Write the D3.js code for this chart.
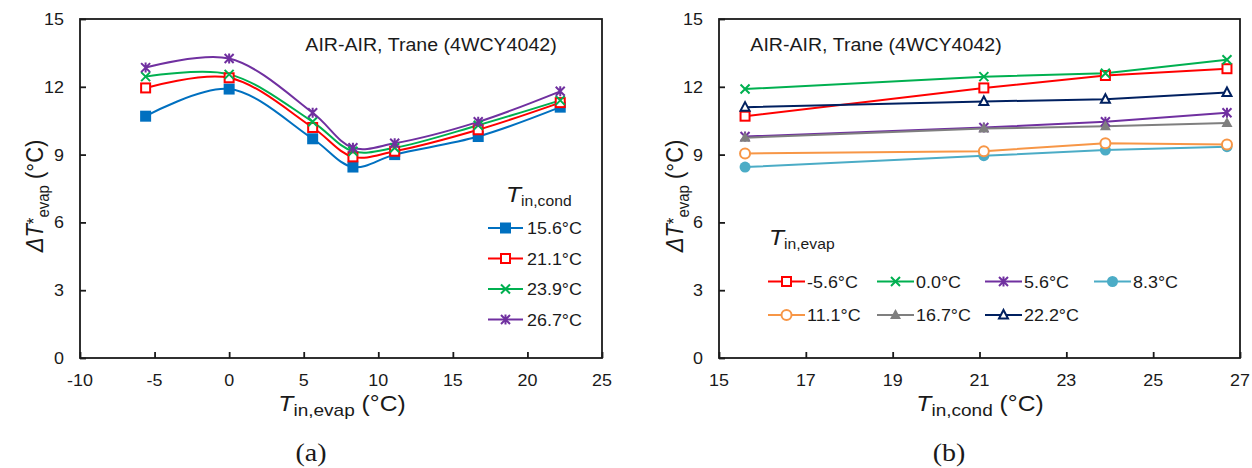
<!DOCTYPE html>
<html><head><meta charset="utf-8">
<script src="https://cdn.jsdelivr.net/npm/d3@7/dist/d3.min.js"></script>
<style>body{margin:0;background:#fff}svg{display:block}</style>
</head><body><svg id="c" width="1252" height="468"></svg>
<script>
// ---------- data ----------
const leftX = [-5.6, 0, 5.6, 8.3, 11.1, 16.7, 22.2];
const leftNames = ["15.6°C", "21.1°C", "23.9°C", "26.7°C"];
const left156 = [10.7, 11.9, 9.7, 8.45, 9.0, 9.8, 11.1];
const left211 = [11.95, 12.4, 10.2, 8.9, 9.15, 10.1, 11.3];
const left239 = [12.45, 12.55, 10.45, 9.15, 9.3, 10.3, 11.4];
const left267 = [12.85, 13.25, 10.85, 9.3, 9.5, 10.45, 11.8];
const leftXTicks = [-10, -5, 0, 5, 10, 15, 20, 25];

const rightX = [15.6, 21.1, 23.9, 26.7];
const rightNames = ["-5.6°C", "0.0°C", "5.6°C", "8.3°C", "11.1°C", "16.7°C", "22.2°C"];
const rightM56 = [10.7, 11.95, 12.5, 12.8];
const right00 = [11.9, 12.45, 12.6, 13.2];
const right56 = [9.8, 10.2, 10.45, 10.85];
const right83 = [8.45, 8.95, 9.2, 9.35];
const right111 = [9.05, 9.15, 9.5, 9.45];
const right167 = [9.75, 10.15, 10.25, 10.4];
const right222 = [11.1, 11.35, 11.45, 11.75];
const rightXTicks = [15, 17, 19, 21, 23, 25, 27];
const yTicks = [0, 3, 6, 9, 12, 15];

const annotation = "AIR-AIR, Trane (4WCY4042)";

// ---------- setup ----------
const svg = d3.select("#c");
const SX = 1.12;
const FONT = "'Liberation Sans', Arial, sans-serif";

function label(parent, x, y, parts, opts = {}) {
  const rot = opts.rotate ? ` rotate(${opts.rotate})` : "";
  const g = parent.append("g").attr("transform", `translate(${x},${y}) scale(${opts.sx || SX},1)${rot}`);
  const t = g.append("text")
    .attr("text-anchor", opts.anchor || "start")
    .attr("font-family", opts.family || FONT)
    .attr("font-size", opts.size || 15)
    .attr("fill", "#1a1a1a");
  parts.forEach(p => {
    const ts = t.append("tspan").text(p.t);
    if (p.size) ts.attr("font-size", p.size);
    if (p.italic) ts.attr("font-style", "italic");
    if (p.dy) ts.attr("dy", p.dy);
  });
  return g;
}

function marker(g, type, color, x, y) {
  const s = 5.5;
  if (type === "fsquare") g.append("rect").attr("x", x - s).attr("y", y - s).attr("width", 2 * s).attr("height", 2 * s).attr("fill", color);
  else if (type === "osquare") g.append("rect").attr("x", x - s + 1).attr("y", y - s + 1).attr("width", 2 * s - 2).attr("height", 2 * s - 2).attr("fill", "#fff").attr("stroke", color).attr("stroke-width", 2);
  else if (type === "x") g.append("path").attr("d", `M${x-4.5},${y-4.5}L${x+4.5},${y+4.5}M${x-4.5},${y+4.5}L${x+4.5},${y-4.5}`).attr("stroke", color).attr("stroke-width", 2);
  else if (type === "star") g.append("path").attr("d", `M${x-4.5},${y-4.5}L${x+4.5},${y+4.5}M${x-4.5},${y+4.5}L${x+4.5},${y-4.5}M${x},${y-5}L${x},${y+5}`).attr("stroke", color).attr("stroke-width", 2);
  else if (type === "fcircle") g.append("circle").attr("cx", x).attr("cy", y).attr("r", 5.5).attr("fill", color);
  else if (type === "ocircle") g.append("circle").attr("cx", x).attr("cy", y).attr("r", 5).attr("fill", "#fff").attr("stroke", color).attr("stroke-width", 2);
  else if (type === "ftri") g.append("path").attr("d", `M${x},${y-6}L${x+5.5},${y+4}L${x-5.5},${y+4}Z`).attr("fill", color);
  else if (type === "otri") g.append("path").attr("d", `M${x},${y-5}L${x+4.5},${y+3.5}L${x-4.5},${y+3.5}Z`).attr("fill", "#fff").attr("stroke", color).attr("stroke-width", 2);
}

function panel(opts) {
  const { x0, x1, y0, y1, xDomain, xTicks, series, xs, curve } = opts;
  const x = d3.scaleLinear().domain(xDomain).range([x0, x1]);
  const y = d3.scaleLinear().domain([0, 15]).range([y1, y0]);
  const g = svg.append("g");
  g.append("rect").attr("x", x0).attr("y", y0).attr("width", x1 - x0).attr("height", y1 - y0)
    .attr("fill", "none").attr("stroke", "#1a1a1a").attr("stroke-width", 1.8);
  const ax = g.append("g").attr("transform", `translate(0,${y1})`)
    .call(d3.axisTop(x).tickValues(xTicks).tickSize(6).tickFormat(""));
  ax.select(".domain").remove();
  ax.selectAll("line").attr("stroke", "#1a1a1a").attr("stroke-width", 1.8);
  const ay = g.append("g").attr("transform", `translate(${x0},0)`)
    .call(d3.axisRight(y).tickValues(yTicks).tickSize(6).tickFormat(""));
  ay.select(".domain").remove();
  ay.selectAll("line").attr("stroke", "#1a1a1a").attr("stroke-width", 1.8);
  xTicks.forEach(v => label(g, x(v), y1 + 28, [{ t: String(v) }], { anchor: "middle", size: 16 }));
  yTicks.forEach(v => label(g, x0 - 16, y(v) + 6, [{ t: String(v) }], { anchor: "end", size: 16 }));
  const line = d3.line().x((d, i) => x(xs[i])).y(d => y(d)).curve(curve);
  series.forEach(s => {
    g.append("path").attr("d", line(s.v)).attr("fill", "none").attr("stroke", s.c).attr("stroke-width", 2);
  });
  series.forEach(s => {
    s.v.forEach((v, i) => marker(g, s.m, s.c, x(xs[i]), y(v)));
  });
  return { g, x, y };
}

const C = { blue: "#0070C0", red: "#FF0000", green: "#00B050", purple: "#7030A0", cyan: "#4BACC6", orange: "#F79646", gray: "#7F7F7F", navy: "#002060" };

function xTitle(cx, sub) {
  label(svg, cx, 411, [{ t: "T", italic: true, size: 22 }, { t: sub, size: 17, dy: 5 }, { t: " (°C)", size: 22, dy: -5 }], { anchor: "middle", size: 22 });
}
function yTitle(cx, cy) {
  label(svg, cx, cy, [{ t: "ΔT", italic: true, size: 22 }, { t: "*", size: 17, dy: -3 }, { t: "evap", size: 15, dy: 8 }, { t: " (°C)", size: 22, dy: -5 }], { anchor: "middle", size: 22, rotate: -90 });
}

// ---------- panel (a) ----------
const leftSeries = [
  { v: left156, c: C.blue, m: "fsquare" },
  { v: left211, c: C.red, m: "osquare" },
  { v: left239, c: C.green, m: "x" },
  { v: left267, c: C.purple, m: "star" }
];
const pa = panel({ x0: 80, x1: 602, y0: 19, y1: 358, xDomain: [-10, 25], xTicks: leftXTicks, xs: leftX,
  series: leftSeries, curve: d3.curveCatmullRom.alpha(0.5) });
label(pa.g, 431, 51, [{ t: annotation }], { anchor: "middle", size: 17.5 });
label(pa.g, 506, 202, [{ t: "T", italic: true, size: 22 }, { t: "in,cond", size: 14, dy: 4 }], { size: 22 });
leftSeries.forEach((s, i) => {
  const yy = 228 + i * 30.5;
  pa.g.append("line").attr("x1", 488).attr("x2", 523).attr("y1", yy).attr("y2", yy).attr("stroke", s.c).attr("stroke-width", 2);
  marker(pa.g, s.m, s.c, 505.5, yy);
  label(pa.g, 527, yy + 6, [{ t: leftNames[i] }], { size: 16 });
});
xTitle(342, "in,evap");
yTitle(43, 196);
label(svg, 311, 461, [{ t: "(a)" }], { anchor: "middle", size: 25, family: "'Liberation Serif', 'Times New Roman', serif" });

// ---------- panel (b) ----------
const rightSeries = [
  { v: rightM56, c: C.red, m: "osquare" },
  { v: right00, c: C.green, m: "x" },
  { v: right56, c: C.purple, m: "star" },
  { v: right83, c: C.cyan, m: "fcircle" },
  { v: right111, c: C.orange, m: "ocircle" },
  { v: right167, c: C.gray, m: "ftri" },
  { v: right222, c: C.navy, m: "otri" }
];
const pb = panel({ x0: 719, x1: 1240, y0: 19, y1: 358, xDomain: [15, 27], xTicks: rightXTicks, xs: rightX,
  series: rightSeries, curve: d3.curveLinear });
label(pb.g, 876, 51, [{ t: annotation }], { anchor: "middle", size: 17.5 });
label(pb.g, 769, 245, [{ t: "T", italic: true, size: 22 }, { t: "in,evap", size: 14, dy: 4 }], { size: 22 });
const colX = [768, 877, 985, 1094];
rightSeries.forEach((s, i) => {
  const r = i < 4 ? 0 : 1, cidx = i < 4 ? i : i - 4;
  const lx = colX[cidx], yy = 281.5 + r * 33.5;
  pb.g.append("line").attr("x1", lx).attr("x2", lx + 37).attr("y1", yy).attr("y2", yy).attr("stroke", s.c).attr("stroke-width", 2);
  marker(pb.g, s.m, s.c, lx + 18.5, yy);
  label(pb.g, lx + 39, yy + 6, [{ t: rightNames[i] }], { size: 16 });
});
xTitle(980, "in,cond");
yTitle(683, 196);
label(svg, 949, 461, [{ t: "(b)" }], { anchor: "middle", size: 25, family: "'Liberation Serif', 'Times New Roman', serif" });
</script></body></html>
